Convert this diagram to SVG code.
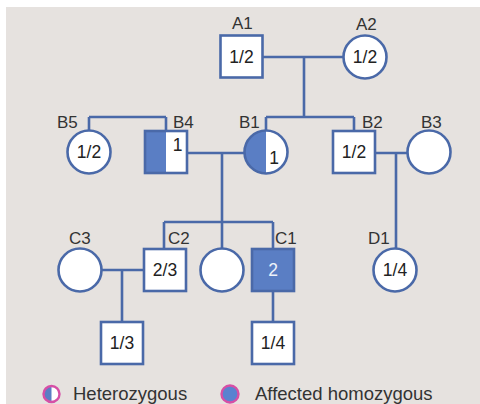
<svg xmlns="http://www.w3.org/2000/svg" width="480" height="404" viewBox="0 0 480 404">
<style>
.sym{fill:#ffffff;stroke:#4a69a8;stroke-width:2.6}
.out{fill:none;stroke:#4a69a8;stroke-width:2.6}
.aff{fill:#5a7ec4}
.ln{fill:none;stroke:#4a69a8;stroke-width:2.6}
.lbl{font-family:"Liberation Sans",Arial,sans-serif;font-size:17px;fill:#333333}
.val{font-family:"Liberation Sans",Arial,sans-serif;font-size:17.5px;fill:#222222;text-anchor:middle}
.leg{font-family:"Liberation Sans",Arial,sans-serif;font-size:18.5px;fill:#333333}
</style>
<rect x="0" y="0" width="480" height="404" fill="#ffffff"/>
<rect x="6" y="7" width="474" height="397" fill="#e6e2df"/>
<g id="connectors">
<path class="ln" d="M263 57H343M304 57V117M266 117H354M266 117V130M354 117V131"/>
<path class="ln" d="M89 117H166M89 117V130M166 117V131"/>
<path class="ln" d="M187 153H244M222 153V222M164 222H273M164 222V249M273 222V249M222 222V248"/>
<path class="ln" d="M375 153H407M396 153V248"/>
<path class="ln" d="M101 270H144M122 270V322"/>
<path class="ln" d="M273 291V322"/>
</g>
<g id="A1"><rect class="sym" x="220.5" y="35.5" width="42" height="42"/><text class="lbl" x="232" y="29">A1</text><text class="val" x="241.5" y="62.5">1/2</text></g>
<g id="A2"><circle class="sym" cx="365" cy="57" r="21.5"/><text class="lbl" x="356" y="30">A2</text><text class="val" x="365" y="63">1/2</text></g>
<g id="B5"><circle class="sym" cx="89" cy="152" r="21.5"/><text class="lbl" x="57" y="128">B5</text><text class="val" x="89" y="158">1/2</text></g>
<g id="B4"><rect x="145" y="131" width="42" height="42" fill="#ffffff"/><rect class="aff" x="145" y="131" width="21" height="42"/><rect class="out" x="145" y="131" width="42" height="42"/><text class="lbl" x="173" y="128">B4</text><text class="val" x="177.5" y="151" font-size="18">1</text></g>
<g id="B1"><circle cx="266" cy="152" r="21.5" fill="#ffffff"/><path class="aff" d="M266 130.5A21.5 21.5 0 0 0 266 173.5Z"/><circle class="out" cx="266" cy="152" r="21.5"/><text class="lbl" x="239" y="128">B1</text><text class="val" x="274" y="164" font-size="18">1</text></g>
<g id="B2"><rect class="sym" x="333" y="131" width="42" height="42"/><text class="lbl" x="362" y="128">B2</text><text class="val" x="354" y="158">1/2</text></g>
<g id="B3"><circle class="sym" cx="429" cy="152" r="21.5"/><text class="lbl" x="421" y="128">B3</text></g>
<g id="C3"><circle class="sym" cx="80" cy="270" r="21.5"/><text class="lbl" x="69" y="244">C3</text></g>
<g id="C2"><rect class="sym" x="144" y="249" width="42" height="42"/><text class="lbl" x="168" y="244">C2</text><text class="val" x="165" y="276">2/3</text></g>
<g id="C-sib"><circle class="sym" cx="222" cy="270" r="21.5"/></g>
<g id="C1"><rect class="sym" x="252" y="249" width="42" height="42" style="fill:#5a7ec4"/><text class="lbl" x="275" y="244">C1</text><text class="val" x="273" y="276" style="fill:#eef2fa">2</text></g>
<g id="D1"><circle class="sym" cx="395" cy="270" r="21.5"/><text class="lbl" x="368" y="244">D1</text><text class="val" x="395" y="276">1/4</text></g>
<g id="C2-child"><rect class="sym" x="101" y="322" width="42" height="42"/><text class="val" x="122" y="349">1/3</text></g>
<g id="C1-child"><rect class="sym" x="252" y="322" width="42" height="42"/><text class="val" x="273" y="349">1/4</text></g>
<g id="legend">
<circle cx="51.5" cy="394" r="8" fill="#ffffff"/>
<path d="M51.5 386A8 8 0 0 0 51.5 402Z" fill="#5a7ec4"/>
<circle cx="51.5" cy="394" r="8" fill="none" stroke="#d64fa6" stroke-width="2.4"/>
<text class="leg" x="73" y="400">Heterozygous</text>
<circle cx="230" cy="394" r="8.5" fill="#5a82d0" stroke="#d64fa6" stroke-width="2.4"/>
<text class="leg" x="255" y="400">Affected homozygous</text>
</g>
</svg>
